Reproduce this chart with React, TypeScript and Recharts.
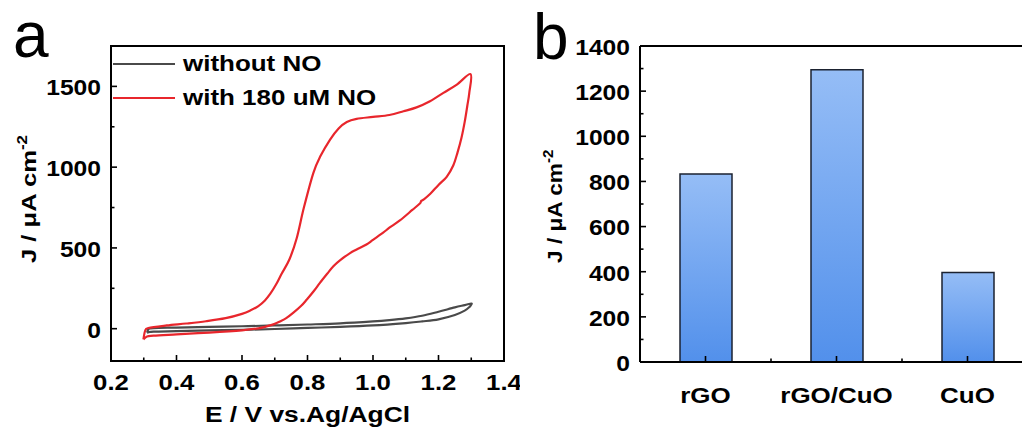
import React from 'react';
import {
  LineChart, Line, XAxis, YAxis, ReferenceArea, ReferenceLine, Legend, BarChart, Bar,
} from 'recharts';

const FONT = '"Liberation Sans", Arial, Helvetica, sans-serif';

// ---------- Panel a: cyclic voltammograms ----------
const seriesNames = ['without NO', 'with 180 uM NO'];

const withoutNO_E = [0.31, 0.315, 0.33, 0.4, 0.5, 0.6, 0.7, 0.8, 0.9, 1.0, 1.05, 1.1, 1.15, 1.2, 1.25, 1.28, 1.3,
  1.3, 1.295, 1.28, 1.25, 1.2, 1.15, 1.1, 1.0, 0.9, 0.8, 0.7, 0.6, 0.5, 0.4, 0.33, 0.315, 0.31];
const withoutNO_J = [-25, -2, 4, 7, 11, 15, 20, 26, 33, 45, 53, 64, 80, 105, 132, 146, 156,
  150, 135, 112, 85, 58, 45, 35, 20, 11, 5, -2, -7, -11, -15, -18, -22, -25];

const withNO_E = [0.299, 0.304, 0.314, 0.37, 0.43, 0.49, 0.55, 0.6, 0.625, 0.65, 0.67, 0.686, 0.703, 0.721, 0.745,
  0.767, 0.789, 0.818, 0.84, 0.869, 0.895, 0.92, 0.95, 1.0, 1.05, 1.093, 1.133, 1.174, 1.215, 1.256, 1.298,
  1.294, 1.288, 1.28, 1.27, 1.258, 1.245, 1.225, 1.2, 1.175, 1.155, 1.147, 1.143, 1.12, 1.082, 1.05, 1.031,
  1.0, 0.98, 0.95, 0.93, 0.9, 0.879, 0.86, 0.838, 0.82, 0.798, 0.78, 0.757, 0.735, 0.716, 0.7, 0.675, 0.65,
  0.6, 0.5, 0.4, 0.33, 0.31, 0.299];
const withNO_J = [-66, -15, 4, 20, 32, 46, 65, 92, 112, 140, 175, 215, 270, 340, 430,
  560, 750, 965, 1070, 1171, 1240, 1280, 1299, 1311, 1323, 1346, 1370, 1408, 1460, 1511, 1576,
  1460, 1380, 1280, 1180, 1090, 1010, 940, 890, 835, 800, 790, 775, 735, 670, 625, 594,
  550, 521, 490, 468, 425, 387, 340, 284, 235, 181, 140, 99, 65, 45, 30, 14, 2,
  -10, -24, -35, -43, -48, -66];

const cvXMajor = [0.2, 0.4, 0.6, 0.8, 1.0, 1.2, 1.4];
const cvXMinor = [0.3, 0.5, 0.7, 0.9, 1.1, 1.3];
const cvYMajor = [0, 500, 1000, 1500];
const cvYMinor = [250, 750, 1250];
const cvXDomain = [0.2, 1.4];
const cvYDomain = [-200, 1750];

// ---------- Panel b: bar chart ----------
const materials = ['rGO', 'rGO/CuO', 'CuO'];
const currentDensity = [833, 1295, 397];
const barYMajor = [0, 200, 400, 600, 800, 1000, 1200, 1400];
const barYMinor = [100, 300, 500, 700, 900, 1100, 1300];
const barYDomain = [0, 1400];

const withoutData = withoutNO_E.map((e, i) => ({ E: e, J: withoutNO_J[i] }));
const withData = withNO_E.map((e, i) => ({ E: e, J: withNO_J[i] }));
const barData = materials.map((m, i) => ({ name: m, J: currentDensity[i] }));

// Catmull-Rom style smoothing curve (works for closed loops where x reverses)
function smoothCurve(context: any) {
  let pts: number[][] = [];
  return {
    areaStart() {},
    areaEnd() {},
    lineStart() { pts = []; },
    point(x: number, y: number) { pts.push([+x, +y]); },
    lineEnd() {
      if (!pts.length) return;
      context.moveTo(pts[0][0], pts[0][1]);
      for (let i = 0; i < pts.length - 1; i++) {
        const p0 = pts[i - 1] || pts[i];
        const p1 = pts[i];
        const p2 = pts[i + 1];
        const p3 = pts[i + 2] || p2;
        const c1x = p1[0] + (p2[0] - p0[0]) / 6;
        const c1y = p1[1] + (p2[1] - p0[1]) / 6;
        const c2x = p2[0] - (p3[0] - p1[0]) / 6;
        const c2y = p2[1] - (p3[1] - p1[1]) / 6;
        context.bezierCurveTo(c1x, c1y, c2x, c2y, p2[0], p2[1]);
      }
    },
  };
}

// Stretched bold text (SVG). y is the vertical centre of the capitals.
function SText({ x, y, anchor = 'middle', size = 22, sx = 1.15, weight = 700, children }: any) {
  return (
    <g transform={`translate(${x},${y}) scale(${sx},1)`}>
      <text x={0} y={0} dy={0.358 * size} textAnchor={anchor} fontSize={size} fontWeight={weight}
        fontFamily={FONT} fill="#000">{children}</text>
    </g>
  );
}

const CvYTick = (props: any) => {
  const { x, y, payload } = props;
  const major = cvYMajor.includes(payload.value);
  return (
    <g>
      <line x1={x} x2={x + (major ? 6 : 3.5)} y1={y} y2={y} stroke="#000" strokeWidth={1.6} />
      {major && <SText x={x - 10} y={y + 1} anchor="end" size={22} sx={1.12}>{String(payload.value)}</SText>}
    </g>
  );
};

const CvXTick = (props: any) => {
  const { x, y, payload } = props;
  const major = cvXMajor.some((v) => Math.abs(v - payload.value) < 1e-6);
  return (
    <g>
      <line x1={x} x2={x} y1={y} y2={y - (major ? 6 : 3.5)} stroke="#000" strokeWidth={1.6} />
      {major && <SText x={x} y={y + 21} anchor="middle" size={23} sx={1.12}>{Number(payload.value).toFixed(1)}</SText>}
    </g>
  );
};

const BarYTick = (props: any) => {
  const { x, y, payload } = props;
  const major = barYMajor.includes(payload.value);
  return (
    <g>
      <line x1={x} x2={x + (major ? 6 : 3.5)} y1={y} y2={y} stroke="#000" strokeWidth={1.6} />
      {major && <SText x={x - 10} y={y + 1} anchor="end" size={22} sx={1.12}>{String(payload.value)}</SText>}
    </g>
  );
};

const BarXTick = (props: any) => {
  const { x, y, payload, index, visibleTicksCount } = props;
  const half = payload && payload.offset ? payload.offset : 0;
  return (
    <g>
      <line x1={x} x2={x} y1={y} y2={y - 6} stroke="#000" strokeWidth={1.6} />
      {half > 0 && index < visibleTicksCount - 1 && (
        <line x1={x + half} x2={x + half} y1={y} y2={y - 3.5} stroke="#000" strokeWidth={1.6} />
      )}
      <SText x={x} y={y + 33} anchor="middle" size={22} sx={1.18}>{payload.value}</SText>
    </g>
  );
};

const YTitle = ({ cx, bottom, sx }: { cx: number; bottom: number; sx: number }) => {
  const size = 21;
  return (
    <g transform={`translate(${cx + 0.358 * size},${bottom}) rotate(-90) scale(${sx},1)`}>
      <text x={0} y={0} textAnchor="start" fontSize={size} fontWeight={700} fontFamily={FONT} fill="#000">
        J / μA cm<tspan fontSize={14} dy={-9}>-2</tspan>
      </text>
    </g>
  );
};

const renderLegend = (props: any) => {
  const items = [...(props.payload || [])].sort(
    (a: any, b: any) => seriesNames.indexOf(a.value) - seriesNames.indexOf(b.value),
  );
  return (
    <div style={{ fontFamily: FONT }}>
      {items.map((p: any) => (
        <div key={p.value} style={{ display: 'flex', alignItems: 'center', height: 34 }}>
          <div style={{ width: 62, height: 2.5, background: p.color, marginRight: 8, flex: 'none' }} />
          <span style={{
            fontSize: 22, fontWeight: 700, lineHeight: '34px', whiteSpace: 'nowrap', display: 'inline-block',
            transform: 'scaleX(1.18)', transformOrigin: 'left center', color: '#000',
          }}>{p.value}</span>
        </div>
      ))}
    </div>
  );
};

export default function App() {
  return (
    <div style={{ position: 'fixed', left: 0, top: 0, width: 1022, height: 427, overflow: 'hidden', background: '#fff' }}>
      {/* Panel a */}
      <div style={{ position: 'absolute', left: 0, top: 0 }}>
        <LineChart width={520} height={427} margin={{ top: 46, right: 16, bottom: 26, left: 51 }}>
          <XAxis dataKey="E" type="number" domain={cvXDomain} allowDataOverflow
            ticks={[...cvXMajor, ...cvXMinor]} interval={0} height={40}
            tickSize={0} tickMargin={0} tickLine={false} tick={<CvXTick />}
            axisLine={{ stroke: '#000', strokeWidth: 2 }}
            label={(p: any) => <SText x={307.5} y={414} size={22} sx={1.2}>E / V vs.Ag/AgCl</SText>} />
          <YAxis dataKey="J" type="number" domain={cvYDomain} allowDataOverflow
            ticks={[...cvYMajor, ...cvYMinor]} interval={0} width={60}
            tickSize={0} tickMargin={0} tickLine={false} tick={<CvYTick />}
            axisLine={{ stroke: '#000', strokeWidth: 2 }}
            label={(p: any) => <YTitle cx={28} bottom={263} sx={1.22} />} />
          <ReferenceArea x1={cvXDomain[0]} x2={cvXDomain[1]} y1={cvYDomain[0]} y2={cvYDomain[1]}
            fill="none" fillOpacity={0} stroke="#000" strokeWidth={2} ifOverflow="visible" />
          <Line data={withoutData} dataKey="J" name={seriesNames[0]} type={smoothCurve as any} stroke="#4a4a4a"
            strokeWidth={2.2} dot={false} isAnimationActive={false} />
          <Line data={withData} dataKey="J" name={seriesNames[1]} type={smoothCurve as any} stroke="#e8262c"
            strokeWidth={2.2} dot={false} isAnimationActive={false} />
          <Legend layout="vertical" align="center" verticalAlign="middle" content={renderLegend}
            itemSorter={null as any}
            wrapperStyle={{ position: 'absolute', left: 113, top: 47, width: 'auto', height: 'auto' }} />
        </LineChart>
      </div>

      {/* Panel b */}
      <div style={{ position: 'absolute', left: 520, top: 0 }}>
        <BarChart width={520} height={427} data={barData} margin={{ top: 46, right: 7, bottom: 25, left: 60 }}>
          <defs>
            <linearGradient id="barGrad" x1="0" y1="0" x2="0" y2="1">
              <stop offset="0%" stopColor="#95bdf6" />
              <stop offset="100%" stopColor="#5290eb" />
            </linearGradient>
          </defs>
          <XAxis dataKey="name" type="category" interval={0} height={40}
            tickSize={0} tickMargin={0} tickLine={false} tick={<BarXTick />}
            axisLine={{ stroke: '#000', strokeWidth: 2 }} />
          <YAxis type="number" domain={barYDomain} allowDataOverflow
            ticks={[...barYMajor, ...barYMinor]} interval={0} width={60}
            tickSize={0} tickMargin={0} tickLine={false} tick={<BarYTick />}
            axisLine={{ stroke: '#000', strokeWidth: 2 }}
            label={(p: any) => <YTitle cx={34} bottom={263} sx={1.08} />} />
          <ReferenceLine y={barYDomain[1]} stroke="#000" strokeWidth={2} />
          <Bar dataKey="J" fill="url(#barGrad)" stroke="#1b2230" strokeWidth={1.5} barSize={52}
            isAnimationActive={false} />
        </BarChart>
      </div>

      {/* Panel letters */}
      <svg width={1022} height={427} style={{ position: 'absolute', left: 0, top: 0, pointerEvents: 'none' }}>
        <text x={13} y={57} fontSize={64} fontFamily={FONT} fill="#000">a</text>
        <text x={533} y={59} fontSize={64} fontFamily={FONT} fill="#000">b</text>
      </svg>
    </div>
  );
}
